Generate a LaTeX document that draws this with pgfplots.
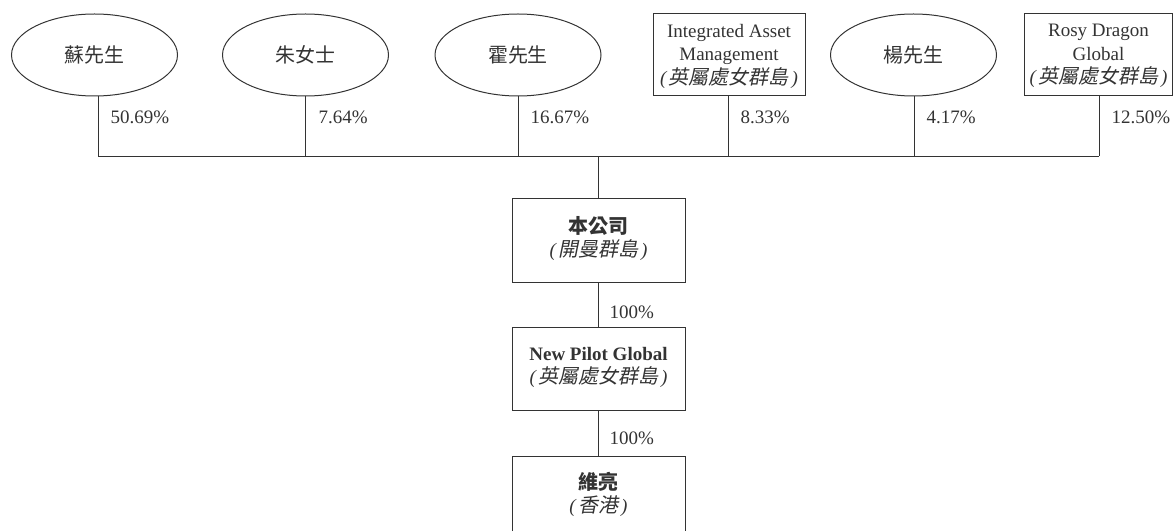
\documentclass[border=0pt]{standalone}
\usepackage{pgfplots}
\pgfplotsset{compat=1.18}
\usepackage{fontspec}
\setmainfont{Liberation Serif}
\newfontfamily\cjk{Noto Sans CJK TC}[Scale=1.05]
\newfontfamily\cjkit{Noto Sans CJK TC}[FakeSlant=0.2, Scale=1.05]
\usetikzlibrary{shapes.geometric}
\definecolor{ink}{gray}{0.2}
\newcommand{\paren}[1]{\textit{(}\kern1.5pt{\cjkit #1}\kern3pt\textit{)}}
\newcommand{\bvi}{\paren{英屬處女群島}}
\begin{document}
\begin{tikzpicture}
\begin{axis}[
  scale only axis, width=1174pt, height=531pt,
  xmin=0, xmax=1174, ymin=0, ymax=531, y dir=reverse,
  ticks=none, axis line style={draw=none}, clip=false,
  cycle list={{draw=ink, mark=none, solid}},
  every axis plot/.append style={line width=1pt, line join=miter},
]
% connector lines
\addplot[ink] coordinates {(98,96) (98,156.5)};
\addplot[ink] coordinates {(305,96) (305,156.5)};
\addplot[ink] coordinates {(518,96) (518,156.5)};
\addplot[ink] coordinates {(728,96) (728,156.5)};
\addplot[ink] coordinates {(914,96) (914,156.5)};
\addplot[ink] coordinates {(1099,96) (1099,156.5)};
\addplot[ink] coordinates {(98,156.5) (1099,156.5)};
\addplot[ink] coordinates {(598.5,156.5) (598.5,199)};
\addplot[ink] coordinates {(598.5,282) (598.5,327)};
\addplot[ink] coordinates {(598.5,410) (598.5,456)};
% boxes
\addplot[ink] coordinates {(653,14) (805,14) (805,96) (653,96) (653,14) (805,14)};
\addplot[ink] coordinates {(1024,14) (1172.5,14) (1172.5,96) (1024,96) (1024,14) (1172.5,14)};
\addplot[ink] coordinates {(512,199) (685,199) (685,282) (512,282) (512,199) (685,199)};
\addplot[ink] coordinates {(512,327) (685,327) (685,410) (512,410) (512,327) (685,327)};
\addplot[ink] coordinates {(512,531) (512,456) (685,456) (685,531)};
% ellipses with names
\addplot[draw=none, nodes near coords, point meta=explicit symbolic,
  every node near coord/.append style={anchor=center, ellipse, draw=ink, line width=1pt,
    minimum width=166pt, minimum height=82pt, inner sep=0pt, text=ink,
    font=\fontsize{19}{23}\selectfont\cjk}]
  coordinates {(94.5,55) [蘇先生] (305.5,55) [朱女士] (518,55) [霍先生] (913.5,55) [楊先生]};
% box texts
\addplot[draw=none, nodes near coords, point meta=explicit symbolic,
  every node near coord/.append style={anchor=center, align=center, inner sep=0pt, text=ink,
    font=\fontsize{19}{23.5}\selectfont}]
  coordinates {
    (729,56) [{Integrated Asset\\Management\\\bvi}]
    (1098.5,56) [{Rosy Dragon\\Global\\\bvi}]
    (598.5,238.5) [{{\cjk\bfseries 本公司}\\\paren{開曼群島}}]
    (598.5,367.5) [{\textbf{New Pilot Global}\\\bvi}]
    (598.5,494.5) [{{\cjk\bfseries 維亮}\\\paren{香港}}]
  };
% percentages
\addplot[draw=none, nodes near coords, point meta=explicit symbolic,
  every node near coord/.append style={anchor=west, inner sep=0pt, text=ink,
    font=\fontsize{19}{23}\selectfont}]
  coordinates {
    (110,117) [50.69\%] (318,117) [7.64\%] (530,117) [16.67\%]
    (740,117) [8.33\%] (926,117) [4.17\%] (1111,117) [12.50\%]
    (609,312) [100\%] (609,438) [100\%]
  };
\end{axis}
\end{tikzpicture}
\end{document}
